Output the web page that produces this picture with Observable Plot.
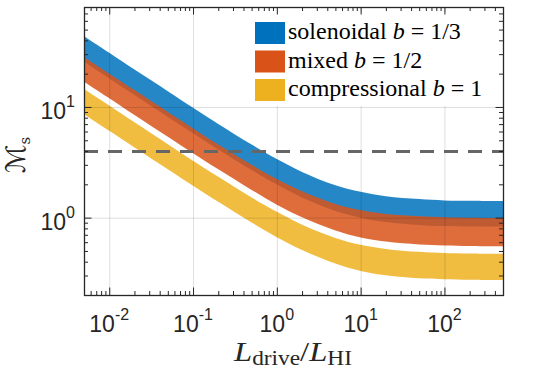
<!DOCTYPE html>
<html>
<head>
<meta charset="utf-8">
<script src="https://cdn.jsdelivr.net/npm/d3@7"></script>
<script src="https://cdn.jsdelivr.net/npm/@observablehq/plot@0.6"></script>
<style>
  html, body { margin: 0; padding: 0; background: #fff; }
  #chart svg { display: block; }
</style>
</head>
<body>
<div id="chart"></div>
<script>
// Driving-scale ratio L_drive / L_HI
const ratio = [0.005, 0.01, 0.02, 0.05, 0.1, 0.2, 0.5, 1, 2, 5, 10, 20, 50, 100, 200, 500];

// Lower and upper bounds of the sonic Mach number for each driving mode
const solenoidalHi = [43.6, 30.9, 21.8, 13.9, 9.85, 7.03, 4.58, 3.39, 2.59, 1.96, 1.71, 1.56, 1.47, 1.43, 1.42, 1.41];
const solenoidalLo = [25.6, 18.1, 12.8, 8.13, 5.78, 4.13, 2.69, 1.99, 1.52, 1.15, 1.00, 0.914, 0.859, 0.839, 0.830, 0.824];
const mixedHi = [28.3, 20.0, 14.2, 9.00, 6.40, 4.58, 3.00, 2.23, 1.73, 1.33, 1.17, 1.08, 1.03, 1.01, 1.00, 0.994];
const mixedLo = [16.9, 12.0, 8.47, 5.38, 3.82, 2.73, 1.78, 1.31, 1.01, 0.766, 0.662, 0.608, 0.573, 0.561, 0.554, 0.550];
const compressionalHi = [14.5, 10.3, 7.26, 4.61, 3.27, 2.34, 1.52, 1.13, 0.863, 0.656, 0.568, 0.522, 0.491, 0.480, 0.475, 0.471];
const compressionalLo = [8.61, 6.09, 4.31, 2.73, 1.94, 1.39, 0.902, 0.666, 0.509, 0.385, 0.330, 0.302, 0.284, 0.278, 0.275, 0.273];

const modeNames = ["solenoidal", "mixed", "compressional"];
const modeB = ["1/3", "1/2", "1"];
const modeColors = ["#0072BD", "#D95319", "#EDB120"];

// Reference Mach level shown as a dashed line
const sonicLevel = [4];

// Decade tick labels (base 10 with exponent)
const xTickValues = [0.01, 0.1, 1, 10, 100];
const xTickExponents = ["-2", "-1", "0", "1", "2"];
const yTickValues = [1, 10];
const yTickExponents = ["0", "1"];

const xDomain = [0.005, 500];
const yDomain = [0.2, 80];

const bands = [
  {lo: solenoidalLo, hi: solenoidalHi},
  {lo: mixedLo, hi: mixedHi},
  {lo: compressionalLo, hi: compressionalHi}
];
const bandRows = bands.map((b, k) =>
  ratio.map((r, i) => ({mode: modeNames[k], ratio: r, lo: b.lo[i], hi: b.hi[i]}))
);

const W = 560, H = 370, mL = 84, mR = 57, mT = 7, mB = 75;
const fw = W - mL - mR, fh = H - mT - mB;
const axisColor = "#262626";
const sansFont = "'Liberation Sans', Arial, Helvetica, sans-serif";
const serifFont = "'Liberation Serif', 'Times New Roman', serif";

// Log-axis tick positions (decades and their 2..9 subdivisions)
const isDecade = v => Math.abs(Math.log10(v) - Math.round(Math.log10(v))) < 1e-9;
const xAll = d3.scaleLog().domain(xDomain).ticks();
const yAll = d3.scaleLog().domain(yDomain).ticks();
const xMajor = xAll.filter(isDecade), xMinor = xAll.filter(v => !isDecade(v));
const yMajor = yAll.filter(isDecade), yMinor = yAll.filter(v => !isDecade(v));

// Inward ticks on all four sides of the box
const boxTicks = (len, xs, ys) => [
  Plot.tickX(xs, {x: d => d, stroke: axisColor, strokeWidth: 1, insetTop: fh - len}),
  Plot.tickX(xs, {x: d => d, stroke: axisColor, strokeWidth: 1, insetBottom: fh - len}),
  Plot.tickY(ys, {y: d => d, stroke: axisColor, strokeWidth: 1, insetRight: fw - len}),
  Plot.tickY(ys, {y: d => d, stroke: axisColor, strokeWidth: 1, insetLeft: fw - len})
];

// "10" with a raised exponent
function powerText(g, base, exp) {
  const t = g.append("text");
  t.append("tspan").text(base);
  t.append("tspan").attr("dy", -12).attr("font-size", 16).text(exp);
  return t;
}

function xTickLabels(index, scales) {
  const g = d3.create("svg:g")
    .style("font-family", sansFont).attr("font-size", 23).attr("fill", axisColor).attr("text-anchor", "middle");
  xTickValues.forEach((v, i) => powerText(g, "10", xTickExponents[i]).attr("x", scales.x(v)).attr("y", 332));
  return g.node();
}

function yTickLabels(index, scales) {
  const g = d3.create("svg:g")
    .style("font-family", sansFont).attr("font-size", 23).attr("fill", axisColor).attr("text-anchor", "end");
  yTickValues.forEach((v, i) => powerText(g, "10", yTickExponents[i]).attr("x", mL - 9).attr("y", scales.y(v) + 12));
  return g.node();
}

// Legend inside the upper right of the axes
function legendBox() {
  const g = d3.create("svg:g").attr("aria-label", "legend");
  g.append("rect").attr("x", 250).attr("y", 12).attr("width", 247).attr("height", 94).attr("fill", "#fff");
  modeNames.forEach((name, i) => {
    const cy = 33 + i * 28.5;
    g.append("rect").attr("x", 255).attr("y", cy - 11).attr("width", 30).attr("height", 22).attr("fill", modeColors[i]);
    const t = g.append("text")
      .attr("x", 288).attr("y", cy + 6).attr("text-anchor", "start")
      .style("font-family", serifFont).attr("font-size", 24).attr("fill", "#000");
    t.append("tspan").text(name + " ");
    t.append("tspan").attr("font-style", "italic").text("b");
    t.append("tspan").text(" = " + modeB[i]);
  });
  return g.node();
}

// Axis titles
function axisTitles() {
  const g = d3.create("svg:g").attr("fill", axisColor);
  const xl = g.append("text")
    .attr("x", 293).attr("y", 361).attr("text-anchor", "middle")
    .attr("textLength", 118).attr("lengthAdjust", "spacingAndGlyphs")
    .style("font-family", serifFont).attr("font-size", 28);
  xl.append("tspan").attr("font-style", "italic").text("L");
  xl.append("tspan").attr("font-size", 20).attr("dy", 4).text("drive");
  xl.append("tspan").attr("dy", -4).text("/");
  xl.append("tspan").attr("font-style", "italic").text("L");
  xl.append("tspan").attr("font-size", 20).attr("dy", 4).text("HI");

  const yl = g.append("text")
    .attr("transform", "translate(25,155) rotate(-90)").attr("text-anchor", "middle")
    .style("font-family", "'DejaVu Serif', 'DejaVu Sans', serif").attr("font-size", 27);
  yl.append("tspan").text("ℳ");
  yl.append("tspan").attr("font-size", 15).attr("dy", 5).text("s");
  return g.node();
}

const chart = Plot.plot({
  width: W,
  height: H,
  marginLeft: mL,
  marginRight: mR,
  marginTop: mT,
  marginBottom: mB,
  style: {background: "#fff", overflow: "visible"},
  x: {type: "log", domain: xDomain, axis: null},
  y: {type: "log", domain: yDomain, axis: null},
  marks: [
    ...bandRows.map((rows, k) =>
      Plot.areaY(rows, {x: "ratio", y1: "lo", y2: "hi", fill: modeColors[k], fillOpacity: 0.85, curve: "catmull-rom"})
    ),
    Plot.ruleX(xTickValues, {x: d => d, stroke: "#000", strokeOpacity: 0.13}),
    Plot.ruleY(yTickValues, {y: d => d, stroke: "#000", strokeOpacity: 0.13}),
    Plot.ruleY(sonicLevel, {y: d => d, stroke: "#666", strokeWidth: 3, strokeDasharray: "14,10"}),
    legendBox,
    ...boxTicks(7.5, xMajor, yMajor),
    ...boxTicks(4, xMinor, yMinor),
    Plot.frame({stroke: axisColor, strokeWidth: 1.3}),
    xTickLabels,
    yTickLabels,
    axisTitles
  ]
});

document.getElementById("chart").appendChild(chart);
</script>
</body>
</html>
